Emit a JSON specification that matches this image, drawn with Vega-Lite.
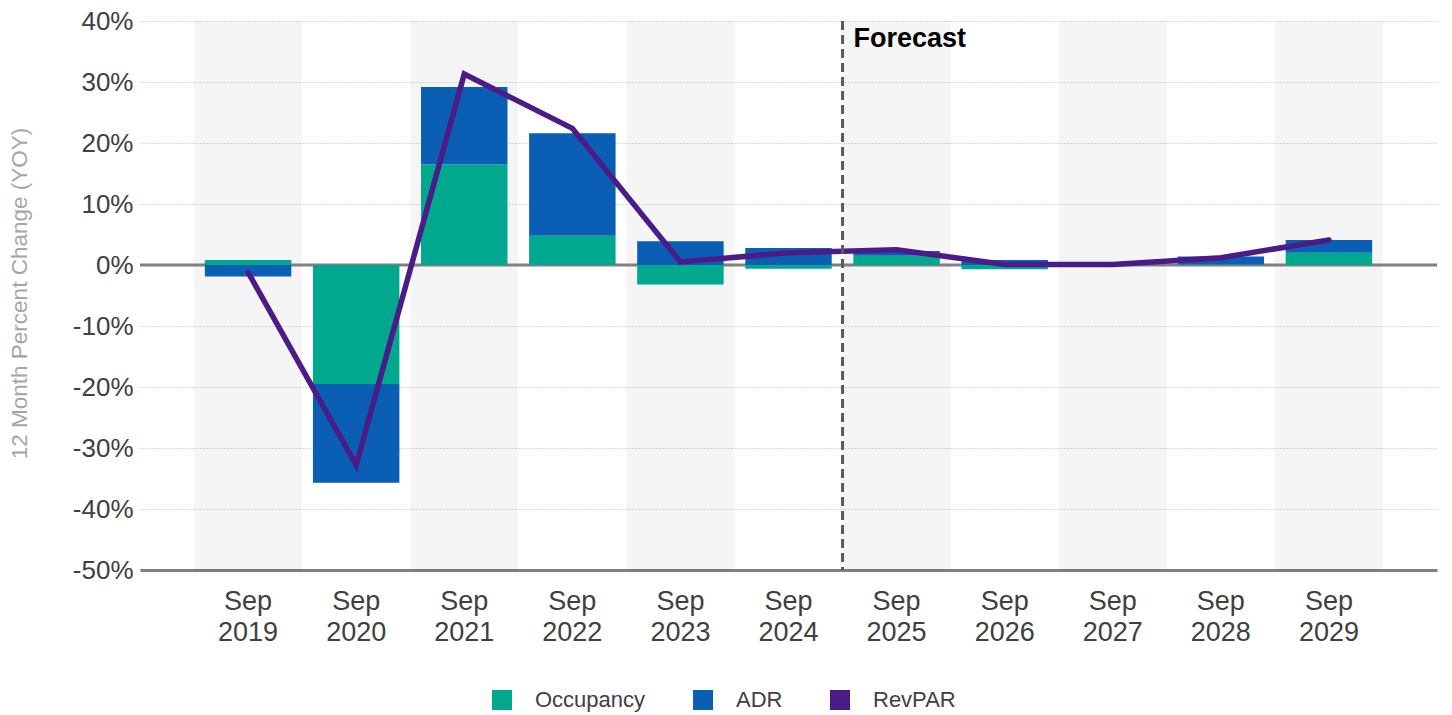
{
  "$schema": "https://vega.github.io/schema/vega-lite/v6.json",
  "width": 1297,
  "height": 549,
  "autosize": {"type": "none"},
  "padding": {"left": 140, "top": 21, "right": 15, "bottom": 145},
  "background": "white",
  "config": {"view": {"stroke": null}, "font": "Liberation Sans"},
  "datasets": {
    "bars": [
      {"year": "Sep 2019", "metric": "Occupancy", "value": 0.8},
      {"year": "Sep 2019", "metric": "ADR", "value": -1.9},
      {"year": "Sep 2020", "metric": "Occupancy", "value": -19.5},
      {"year": "Sep 2020", "metric": "ADR", "value": -16.2},
      {"year": "Sep 2021", "metric": "Occupancy", "value": 16.5},
      {"year": "Sep 2021", "metric": "ADR", "value": 12.7},
      {"year": "Sep 2022", "metric": "Occupancy", "value": 4.8},
      {"year": "Sep 2022", "metric": "ADR", "value": 16.8},
      {"year": "Sep 2023", "metric": "Occupancy", "value": -3.2},
      {"year": "Sep 2023", "metric": "ADR", "value": 3.9},
      {"year": "Sep 2024", "metric": "Occupancy", "value": -0.6},
      {"year": "Sep 2024", "metric": "ADR", "value": 2.8},
      {"year": "Sep 2025", "metric": "Occupancy", "value": 1.5},
      {"year": "Sep 2025", "metric": "ADR", "value": 0.8},
      {"year": "Sep 2026", "metric": "Occupancy", "value": -0.7},
      {"year": "Sep 2026", "metric": "ADR", "value": 0.8},
      {"year": "Sep 2027", "metric": "Occupancy", "value": 0.0},
      {"year": "Sep 2027", "metric": "ADR", "value": 0.1},
      {"year": "Sep 2028", "metric": "Occupancy", "value": 0.1},
      {"year": "Sep 2028", "metric": "ADR", "value": 1.3},
      {"year": "Sep 2029", "metric": "Occupancy", "value": 2.0},
      {"year": "Sep 2029", "metric": "ADR", "value": 2.1}
    ],
    "revpar": [
      {"year": "Sep 2019", "revpar": -1.2},
      {"year": "Sep 2020", "revpar": -32.8},
      {"year": "Sep 2021", "revpar": 31.3},
      {"year": "Sep 2022", "revpar": 22.4},
      {"year": "Sep 2023", "revpar": 0.5},
      {"year": "Sep 2024", "revpar": 2.0},
      {"year": "Sep 2025", "revpar": 2.5},
      {"year": "Sep 2026", "revpar": 0.1},
      {"year": "Sep 2027", "revpar": 0.1},
      {"year": "Sep 2028", "revpar": 1.2},
      {"year": "Sep 2029", "revpar": 4.1}
    ]
  },
  "layer": [
    {
      "data": {"name": "revpar"},
      "transform": [
        {"filter": "indexof(['Sep 2019','Sep 2021','Sep 2023','Sep 2025','Sep 2027','Sep 2029'], datum.year) >= 0"}
      ],
      "mark": {"type": "bar", "color": "black", "opacity": 0.04, "width": {"band": 1}},
      "encoding": {
        "x": {
          "field": "year", "type": "nominal", "title": null,
          "scale": {"domain": ["Sep 2019","Sep 2020","Sep 2021","Sep 2022","Sep 2023","Sep 2024","Sep 2025","Sep 2026","Sep 2027","Sep 2028","Sep 2029"], "paddingInner": 0, "paddingOuter": 0.5},
          "axis": {
            "labelAngle": 0,
            "labelExpr": "split(datum.label, ' ')",
            "labelFontSize": 27,
            "labelLineHeight": 31,
            "labelColor": "#404040",
            "labelPadding": 18,
            "ticks": false,
            "domain": true,
            "domainColor": "#808080",
            "domainWidth": 3,
            "grid": false
          }
        },
        "y": {
          "datum": 40, "type": "quantitative",
          "title": "12 Month Percent Change (YOY)",
          "scale": {"domain": [-50, 40], "nice": false},
          "axis": {
            "titleFontSize": 22.5,
            "titleFontWeight": "normal",
            "titleColor": "#a6a6a6",
            "titleX": -121,
            "titleY": 272,
            "titleAlign": "center",
            "titleBaseline": "middle",
            "titleAngle": -90,
            "values": [-50, -40, -30, -20, -10, 0, 10, 20, 30, 40],
            "labelExpr": "datum.value + '%'",
            "labelFontSize": 26,
            "labelColor": "#404040",
            "labelPadding": 7,
            "ticks": false,
            "domain": false,
            "grid": true,
            "gridColor": "#b8b8b8",
            "gridDash": [1, 2],
            "gridWidth": 1
          }
        },
        "y2": {"datum": -50}
      }
    },
    {
      "data": {"values": [{}]},
      "mark": {"type": "rule", "color": "#808080", "strokeWidth": 3},
      "encoding": {"y": {"datum": 0, "type": "quantitative", "title": "12 Month Percent Change (YOY)"}}
    },
    {
      "data": {"name": "bars"},
      "transform": [{"calculate": "indexof(['Occupancy','ADR'], datum.metric)", "as": "stackorder"}],
      "mark": {"type": "bar", "width": {"band": 0.8}},
      "encoding": {
        "x": {"field": "year", "type": "nominal", "title": null},
        "y": {"field": "value", "type": "quantitative", "stack": "zero", "title": "12 Month Percent Change (YOY)"},
        "order": {"field": "stackorder", "type": "quantitative"},
        "color": {
          "field": "metric", "type": "nominal",
          "scale": {"domain": ["Occupancy", "ADR", "RevPAR"], "range": ["#00A88E", "#0A5FB4", "#4B1C87"]},
          "legend": {
            "title": null,
            "orient": "none",
            "legendX": 351,
            "legendY": 668,
            "direction": "horizontal",
            "symbolType": "square",
            "symbolSize": 400,
            "symbolStrokeWidth": 0,
            "symbolOpacity": 1,
            "labelFontSize": 22,
            "labelColor": "#404040",
            "labelOffset": 22,
            "columnPadding": 46
          }
        }
      }
    },
    {
      "data": {"name": "revpar"},
      "mark": {"type": "line", "color": "#4B1C87", "strokeWidth": 5.5, "strokeCap": "round"},
      "encoding": {
        "x": {"field": "year", "type": "nominal", "title": null},
        "y": {"field": "revpar", "type": "quantitative", "title": "12 Month Percent Change (YOY)"}
      }
    },
    {
      "data": {"values": [{}]},
      "mark": {"type": "rule", "color": "#5a5a5a", "strokeWidth": 3, "strokeDash": [9, 5]},
      "encoding": {
        "x": {"datum": "Sep 2025", "type": "nominal", "bandPosition": 0, "title": null},
        "y": {"datum": 40, "type": "quantitative", "title": "12 Month Percent Change (YOY)"},
        "y2": {"datum": -50}
      }
    },
    {
      "data": {"values": [{}]},
      "mark": {"type": "text", "text": "Forecast", "align": "left", "baseline": "alphabetic", "dx": 11, "dy": 26, "fontSize": 27, "fontWeight": "bold", "color": "#000000"},
      "encoding": {
        "x": {"datum": "Sep 2025", "type": "nominal", "bandPosition": 0, "title": null},
        "y": {"datum": 40, "type": "quantitative", "title": "12 Month Percent Change (YOY)"}
      }
    }
  ]
}
